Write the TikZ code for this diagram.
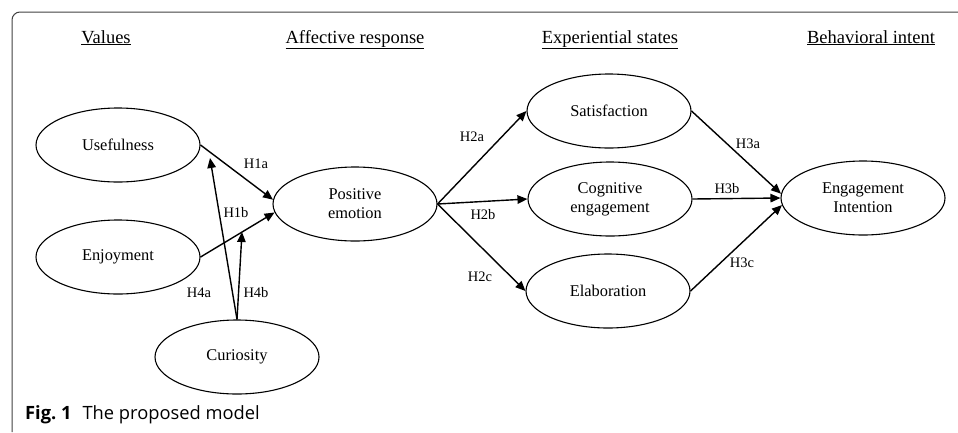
\documentclass[tikz,border=0pt]{standalone}
\usepackage{fontspec}
\setmainfont{Liberation Serif}
\newfontfamily\capfont{Open Sans}
\usetikzlibrary{arrows.meta, shapes.geometric}

\begin{document}
\begin{tikzpicture}[
  x=1pt, y=-1pt,
  >={Triangle[length=10pt, width=8.5pt]},
  construct/.style={ellipse, draw, line width=1.1pt, minimum width=164pt,
    minimum height=74pt, inner sep=0pt, align=center,
    font=\fontsize{16.4}{19}\selectfont},
  hyp/.style={inner sep=0pt, font=\fontsize{14.5}{16}\selectfont},
  colhead/.style={inner sep=0pt, anchor=base, font=\fontsize{18.5}{21}\selectfont},
  link/.style={->, line width=1.4pt}
]
  \useasboundingbox (0,0) rectangle (958,432);
  \draw[black!75, line width=1pt, rounded corners=8pt] (958,12) -- (12,12) -- (12,432);

  % column headings
  \node[colhead] (hval) at (106,43) {\underline{Values}};
  \node[colhead] (haff) at (355,43) {\underline{Affective response}};
  \node[colhead] (hexp) at (610,43) {\underline{Experiential states}};
  \node[colhead] (hbeh) at (871,43) {\underline{Behavioral intent}};

  % constructs
  \node[construct] (useful) at (118,145) {Usefulness};
  \node[construct] (enjoy) at (118,257) {Enjoyment};
  \node[construct] (curio) at (237,357) {Curiosity};
  \node[construct] (posemo) at (355,204) {Positive\\emotion};
  \node[construct] (satis) at (609,111) {Satisfaction};
  \node[construct] (cogeng) at (610,199) {Cognitive\\engagement};
  \node[construct] (elab) at (608,291) {Elaboration};
  \node[construct] (engint) at (863,198) {Engagement\\Intention};

  \coordinate (h4aend) at (210,158);
  \coordinate (h4bend) at (242,232);

  \draw[link] (useful.east) -- (posemo.177);
  \draw[link] (enjoy.east) -- (posemo.186);
  \draw[link] (curio.north) -- (h4aend);
  \draw[link] (curio.north) -- (h4bend);
  \draw[link] (posemo.east) -- (satis.west);
  \draw[link] (posemo.east) -- (cogeng.west);
  \draw[link] (posemo.east) -- (elab.west);
  \draw[link] (satis.east) -- (engint.177);
  \draw[link] (cogeng.east) -- (engint.west);
  \draw[link] (elab.east) -- (engint.185);

  % hypothesis labels
  \node[hyp] (h1a) at (256,164) {H1a};
  \node[hyp] (h1b) at (236,213) {H1b};
  \node[hyp] (h4a) at (199,293) {H4a};
  \node[hyp] (h4b) at (256,293) {H4b};
  \node[hyp] (h2a) at (472,137) {H2a};
  \node[hyp] (h2b) at (483,215) {H2b};
  \node[hyp] (h2c) at (480,277) {H2c};
  \node[hyp] (h3a) at (748,144) {H3a};
  \node[hyp] (h3b) at (727,189) {H3b};
  \node[hyp] (h3c) at (742,263) {H3c};

  \node[anchor=base west, inner sep=0pt, font=\capfont\fontsize{18.3}{21}\selectfont]
    (cap) at (25,419) {\textbf{Fig.~1}\hspace{0.6em}The proposed model};
\end{tikzpicture}
\end{document}
